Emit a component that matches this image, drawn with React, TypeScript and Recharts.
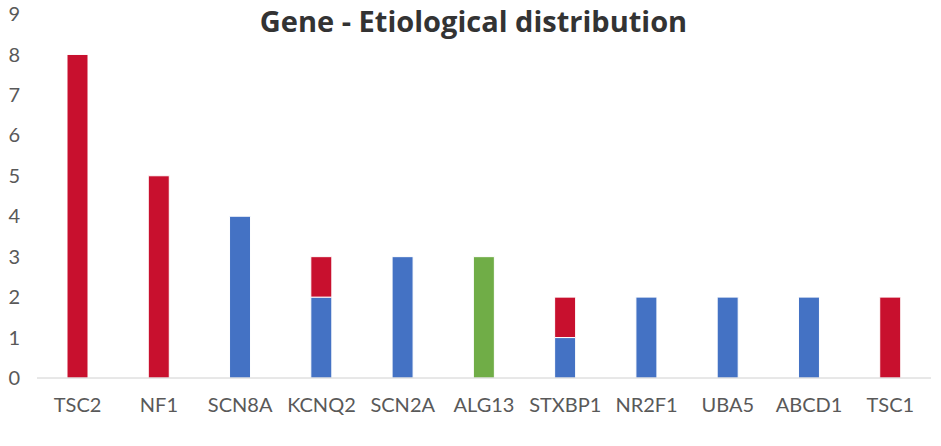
import { BarChart, Bar, XAxis, YAxis } from 'recharts'

const genes = ['TSC2', 'NF1', 'SCN8A', 'KCNQ2', 'SCN2A', 'ALG13', 'STXBP1', 'NR2F1', 'UBA5', 'ABCD1', 'TSC1']
const blueValues = [0, 0, 4, 2, 3, 0, 1, 2, 2, 2, 0]
const redValues = [8, 5, 0, 1, 0, 0, 1, 0, 0, 0, 2]
const greenValues = [0, 0, 0, 0, 0, 3, 0, 0, 0, 0, 0]
const yTicks = [0, 1, 2, 3, 4, 5, 6, 7, 8, 9]

const data = genes.map((gene, i) => ({
  gene,
  blue: blueValues[i],
  red: redValues[i],
  green: greenValues[i],
}))

const tickStyle = { fill: '#595959', fontSize: 20, fontFamily: 'Lato, "Open Sans", sans-serif' }

export default function App() {
  return (
    <div style={{ position: 'absolute', top: 0, left: 0, width: 941, height: 446, background: '#fff' }}>
      <div
        style={{
          position: 'absolute',
          top: 1,
          left: 0,
          width: 947,
          textAlign: 'center',
          fontFamily: 'Open Sans, sans-serif',
          fontWeight: 700,
          fontSize: 29,
          color: '#333',
          zIndex: 1,
        }}
      >
        Gene - Etiological distribution
      </div>
      <BarChart width={941} height={446} data={data} margin={{ top: 14, right: 10, bottom: 28, left: 0 }}>
        <XAxis
          dataKey="gene"
          height={40}
          tick={tickStyle}
          tickLine={false}
          axisLine={{ stroke: '#d0d0d0' }}
          tickMargin={14}
          interval={0}
        />
        <YAxis
          width={37}
          domain={[0, 9]}
          ticks={yTicks}
          tick={tickStyle}
          tickLine={false}
          axisLine={false}
          tickMargin={11}
        />
        <Bar dataKey="blue" stackId="a" fill="#4472C4" stroke="#fff" strokeWidth={1} barSize={21} isAnimationActive={false} />
        <Bar dataKey="red" stackId="a" fill="#C8102E" stroke="#fff" strokeWidth={1} barSize={21} isAnimationActive={false} />
        <Bar dataKey="green" stackId="a" fill="#70AD47" stroke="#fff" strokeWidth={1} barSize={21} isAnimationActive={false} />
      </BarChart>
    </div>
  )
}
